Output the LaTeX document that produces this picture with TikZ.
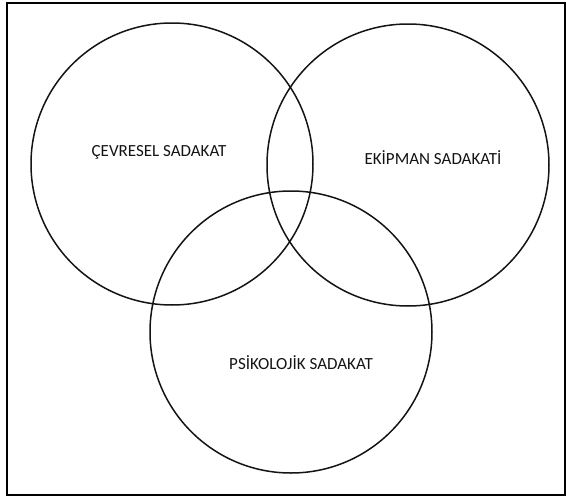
\documentclass[tikz,border=0pt]{standalone}
\usepackage{fontspec}
\setmainfont{Carlito}
\usepackage{xcolor}
\usepackage{tikz}
\usetikzlibrary{positioning}
\definecolor{mydark}{RGB}{20,20,20}
\tikzset{
  ring/.style={draw, circle, line width=1.5pt, color=mydark, minimum size=282pt, inner sep=0pt},
  lbl/.style={font=\fontsize{17}{19}\selectfont, text=mydark, inner sep=0pt}
}

\begin{document}
\begin{tikzpicture}[x=1pt, y=-1pt]
  % ═══════════════════════════════════════════════════════════════
  % FRAME
  % ═══════════════════════════════════════════════════════════════
  \useasboundingbox (0,0) rectangle (566,498);
  \draw[line width=2.4pt, color=black] (7,3) rectangle (565,495);

  % ═══════════════════════════════════════════════════════════════
  % THREE SETS
  % ═══════════════════════════════════════════════════════════════
  \node[ring] (cevre) at (172,164) {};
  \node[ring] (ekip) at (408,165) {};
  \node[ring] (psiko) at (291,332) {};

  % Labels
  \node[lbl] (cevrelbl) at (159,152) {ÇEVRESEL SADAKAT};
  \node[lbl] (ekiplbl) at (433,158) {EKİPMAN SADAKATİ};
  \node[lbl] (psikolbl) at (301,363) {PSİKOLOJİK SADAKAT};
\end{tikzpicture}
\end{document}
